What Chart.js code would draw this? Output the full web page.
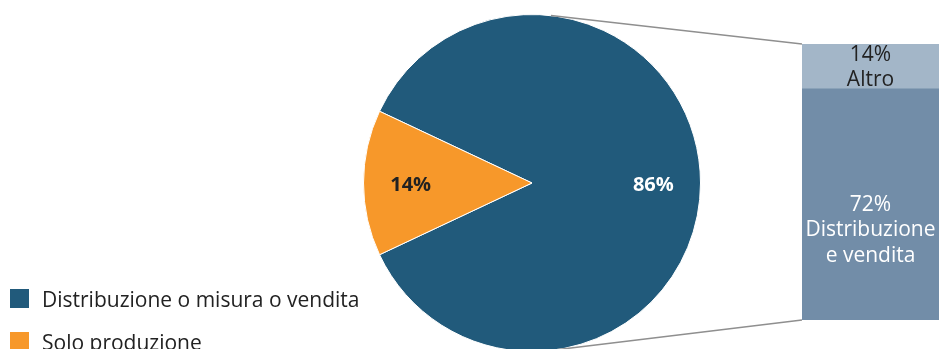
<!DOCTYPE html>
<html>
<head>
<meta charset="utf-8">
<script src="https://cdn.jsdelivr.net/npm/chart.js@4/dist/chart.umd.min.js"></script>
<style>
html, body { margin: 0; padding: 0; background: #fff; overflow: hidden; }
#wrap { position: relative; width: 939px; height: 349px; overflow: hidden; }
canvas { position: absolute; left: 0; top: 0; }
#legend { position: absolute; left: 10px; top: 289px; font-family: 'Open Sans', sans-serif; font-size: 21px; color: #222; }
.item { display: flex; align-items: center; height: 19px; margin-bottom: 24px; white-space: nowrap; }
.box { width: 19px; height: 19px; margin-right: 13px; flex: none; }
</style>
</head>
<body>
<div id="wrap">
  <canvas id="pie" width="939" height="360"></canvas>
  <canvas id="bar" width="939" height="360"></canvas>
  <div id="legend"></div>
</div>
<script>
// pie
const pieLabels = ['Distribuzione o misura o vendita', 'Solo produzione']
const pieValues = [86, 14]
const pieColors = ['#215a7b', '#f7982a']
const pieTextColors = ['#ffffff', '#222222']

// bar (breakdown of the big slice), bottom first
const barLabels = ['Distribuzione e vendita', 'Altro']
const barValues = [72, 14]
const barText = [['72%', 'Distribuzione', 'e vendita'], ['14%', 'Altro']]
const barColors = ['#728da8', '#a3b6c8']
const barTextColors = ['#ffffff', '#222222']
const barTextShift = [25, 0]

const FONT = "'Open Sans', sans-serif"

// legend
const legend = document.getElementById('legend')
pieLabels.forEach((l, i) => {
    const row = document.createElement('div')
    row.className = 'item'
    row.innerHTML = '<span class="box" style="background:' + pieColors[i] + '"></span><span>' + l + '</span>'
    legend.appendChild(row)
})

const total = pieValues.reduce((a, b) => a + b, 0)

const pieLabelPlugin = {
    id: 'pieLabels',
    afterDatasetsDraw(chart) {
        const ctx = chart.ctx
        const meta = chart.getDatasetMeta(0)
        ctx.save()
        ctx.font = 'bold 20px ' + FONT
        ctx.textAlign = 'center'
        ctx.textBaseline = 'middle'
        meta.data.forEach((arc, i) => {
            const p = arc.getProps(['x', 'y', 'startAngle', 'endAngle', 'outerRadius'])
            const a = (p.startAngle + p.endAngle) / 2
            const r = p.outerRadius * 0.72
            ctx.fillStyle = pieTextColors[i]
            ctx.fillText(pieValues[i] + '%', p.x + Math.cos(a) * r, p.y + Math.sin(a) * r + 2)
        })
        ctx.restore()
    }
}

const pieChart = new Chart(document.getElementById('pie'), {
    type: 'pie',
    data: {
        labels: pieLabels,
        datasets: [{
            data: pieValues,
            backgroundColor: pieColors,
            borderColor: '#ffffff',
            borderWidth: 1
        }]
    },
    options: {
        responsive: false,
        animation: false,
        events: [],
        // small slice centred on the left side
        rotation: 270 + pieValues[1] / total * 180,
        layout: { padding: { left: 363, right: 238, top: 14, bottom: 8 } },
        plugins: { legend: { display: false }, tooltip: { enabled: false } }
    },
    plugins: [pieLabelPlugin]
})

function tangentPoint(cx, cy, R, px, py, upper) {
    const dx = px - cx, dy = py - cy
    const d = Math.hypot(dx, dy)
    const base = Math.atan2(dy, dx)
    const alpha = Math.acos(R / d)
    const a = upper ? base - alpha : base + alpha
    return [cx + R * Math.cos(a), cy + R * Math.sin(a)]
}

const barPlugin = {
    id: 'barDecor',
    afterDatasetsDraw(chart) {
        const ctx = chart.ctx
        ctx.save()
        // texts inside segments
        ctx.font = '21px ' + FONT
        ctx.textAlign = 'center'
        ctx.textBaseline = 'middle'
        barValues.forEach((v, i) => {
            const el = chart.getDatasetMeta(i).data[0]
            const p = el.getProps(['x', 'y', 'base'])
            const lines = barText[i]
            const lh = 25.5
            const cy = (p.y + p.base) / 2 - (lines.length - 1) * lh / 2 + barTextShift[i] + 1
            ctx.fillStyle = barTextColors[i]
            lines.forEach((t, k) => ctx.fillText(t, p.x, cy + k * lh))
        })

        // connector lines from the pie to the bar
        const arc = pieChart.getDatasetMeta(0).data[0]
        const a = arc.getProps(['x', 'y', 'outerRadius'])
        const topEl = chart.getDatasetMeta(barValues.length - 1).data[0].getProps(['x', 'y', 'width'])
        const botEl = chart.getDatasetMeta(0).data[0].getProps(['x', 'base', 'width'])
        const left = topEl.x - topEl.width / 2
        ctx.strokeStyle = '#8f8f8f'
        ctx.lineWidth = 1.5
        const t1 = tangentPoint(a.x, a.y, a.outerRadius, left, topEl.y, true)
        const t2 = tangentPoint(a.x, a.y, a.outerRadius, left, botEl.base, false)
        ctx.beginPath()
        ctx.moveTo(t1[0], t1[1])
        ctx.lineTo(left, topEl.y)
        ctx.moveTo(t2[0], t2[1])
        ctx.lineTo(left, botEl.base)
        ctx.stroke()
        ctx.restore()
    }
}

new Chart(document.getElementById('bar'), {
    type: 'bar',
    data: {
        labels: [''],
        datasets: barValues.map((v, i) => ({
            label: barLabels[i],
            data: [v],
            backgroundColor: barColors[i],
            borderWidth: 0,
            barPercentage: 1,
            categoryPercentage: 1
        }))
    },
    options: {
        responsive: false,
        animation: false,
        events: [],
        layout: { padding: { left: 802, right: 0, top: 44, bottom: 40 } },
        scales: {
            x: { stacked: true, display: false },
            y: { stacked: true, display: false, min: 0, max: barValues.reduce((a, b) => a + b, 0) }
        },
        plugins: { legend: { display: false }, tooltip: { enabled: false } }
    },
    plugins: [barPlugin]
})
</script>
</body>
</html>
